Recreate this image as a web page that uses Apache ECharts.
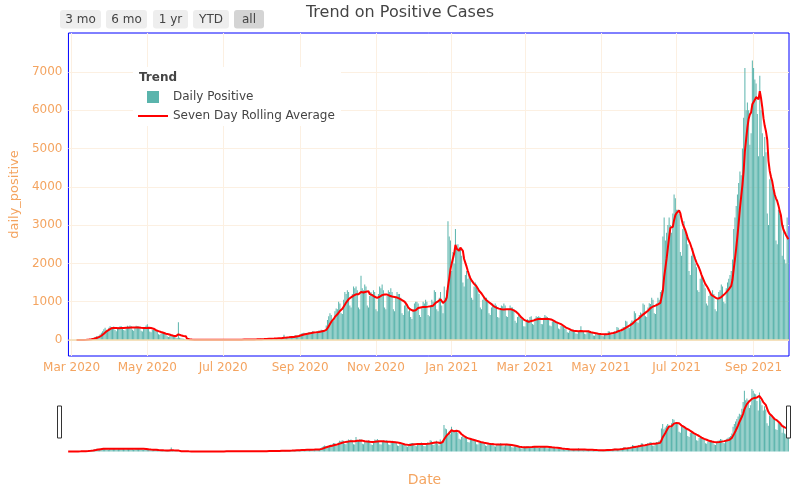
<!DOCTYPE html>
<html>
<head>
<meta charset="utf-8">
<script src="https://cdn.jsdelivr.net/npm/echarts@6/dist/echarts.min.js"></script>
<style>
html, body { margin: 0; padding: 0; background: #fff; }
#chart { width: 800px; height: 494px; }
</style>
</head>
<body>
<div id="chart"></div>
<script>
// first day of the series: 2020-02-28, one value per day up to 2021-09-29
const startDate = [2020, 1, 28];
const dailyPositive = [
  0, 0, 0, 0, 0, 1, 0,
  1, 2, 0, 3, 5, 8, 12,
  15, 20, 18, 25, 35, 48, 60,
  80, 95, 90, 110, 150, 190, 230,
  280, 320, 270, 250, 320, 360, 330,
  330, 350, 260, 230, 300, 340, 360,
  360, 340, 260, 250, 320, 370, 350,
  380, 360, 270, 240, 330, 370, 360,
  350, 330, 240, 220, 310, 340, 380,
  410, 330, 220, 200, 260, 270, 260,
  250, 230, 150, 140, 170, 200, 190,
  160, 140, 100, 80, 100, 130, 130,
  110, 90, 60, 50, 460, 60, 45,
  40, 30, 20, 15, 20, 15, 10,
  8, 6, 4, 3, 5, 6, 5,
  5, 4, 2, 2, 3, 4, 5,
  4, 3, 2, 2, 4, 5, 6,
  6, 5, 3, 4, 6, 8, 7,
  8, 6, 4, 5, 8, 10, 9,
  10, 8, 6, 7, 10, 12, 11,
  14, 12, 9, 10, 15, 18, 16,
  20, 18, 14, 15, 22, 25, 24,
  30, 28, 20, 22, 32, 36, 35,
  42, 38, 28, 30, 45, 52, 48,
  55, 50, 38, 40, 58, 135, 62,
  80, 75, 55, 60, 85, 95, 100,
  130, 120, 95, 100, 150, 170, 175,
  190, 180, 140, 150, 200, 210, 200,
  230, 220, 170, 175, 230, 245, 240,
  270, 260, 210, 230, 380, 520, 620,
  700, 650, 480, 500, 750, 820, 800,
  1000, 950, 700, 680, 1050, 1250, 1200,
  1300, 1250, 900, 850, 1200, 1400, 1350,
  1400, 1300, 850, 800, 1680, 1350, 1300,
  1450, 1400, 900, 850, 1150, 1250, 1200,
  1300, 1250, 800, 750, 1200, 1400, 1350,
  1450, 1300, 850, 800, 1150, 1300, 1250,
  1350, 1250, 800, 750, 1100, 1250, 1200,
  1200, 1100, 700, 650, 900, 1000, 850,
  750, 800, 600, 550, 800, 950, 1000,
  1000, 950, 650, 600, 850, 1000, 950,
  1050, 1000, 650, 620, 900, 1050, 1000,
  1300, 1250, 800, 750, 1100, 1250, 900,
  700, 1400, 1100, 1300, 3100, 2700, 2600,
  1800, 2300, 2000, 2900, 2400, 2500, 2400,
  2400, 2200, 1500, 1400, 1700, 1800, 1600,
  1700, 1600, 1100, 1050, 1400, 1500, 1450,
  1300, 1200, 850, 800, 1050, 1150, 1100,
  1100, 1000, 700, 650, 850, 950, 900,
  950, 900, 600, 580, 780, 900, 880,
  950, 900, 620, 600, 780, 900, 850,
  850, 800, 500, 450, 600, 650, 600,
  550, 520, 360, 350, 480, 540, 520,
  600, 620, 420, 400, 560, 620, 600,
  620, 600, 420, 410, 580, 650, 620,
  600, 560, 380, 360, 480, 520, 500,
  480, 440, 300, 280, 370, 380, 350,
  300, 280, 200, 190, 250, 260, 250,
  270, 250, 170, 160, 220, 230, 360,
  250, 230, 160, 150, 210, 240, 230,
  200, 190, 120, 110, 160, 180, 170,
  180, 160, 110, 100, 150, 170, 160,
  230, 220, 150, 140, 200, 230, 220,
  340, 320, 220, 210, 300, 340, 330,
  500, 480, 330, 320, 450, 510, 500,
  750, 700, 480, 450, 650, 720, 690,
  950, 920, 620, 600, 850, 960, 940,
  1100, 1050, 700, 680, 950, 1100, 1050,
  1250, 1300, 2700, 3200, 2600, 2800, 3000,
  3200, 3000, 2800, 3300, 3800, 3700, 3400,
  3400, 3300, 2300, 2200, 2900, 3100, 2900,
  2700, 2500, 1800, 1700, 2200, 2400, 2200,
  2000, 1900, 1300, 1250, 1600, 1700, 1650,
  1450, 1350, 950, 900, 1150, 1250, 1200,
  1300, 1200, 800, 750, 1100, 1250, 1300,
  1450, 1400, 1000, 950, 1350, 1500, 1600,
  1700, 1800, 2100, 2900, 3200, 3500, 3800,
  4100, 4400, 4300, 5000, 5800, 7100, 6000,
  6200, 6000, 5100, 5400, 7300, 7100, 6800,
  6700, 5900, 4800, 6900, 6000, 5400, 4800,
  5300, 4900, 3300, 3000, 4200, 4300, 4000,
  4000, 3800, 2600, 2500, 3400, 3300, 3200,
  2200, 3000, 2100, 2000, 3200, 2700
];
const tickDates = ['2020-03-01', '2020-05-01', '2020-07-01', '2020-09-01', '2020-11-01',
  '2021-01-01', '2021-03-01', '2021-05-01', '2021-07-01', '2021-09-01'];
const tickLabels = ['Mar 2020', 'May 2020', 'Jul 2020', 'Sep 2020', 'Nov 2020',
  'Jan 2021', 'Mar 2021', 'May 2021', 'Jul 2021', 'Sep 2021'];
const yTicks = [0, 1000, 2000, 3000, 4000, 5000, 6000, 7000];
const rangeButtons = ['3 mo', '6 mo', '1 yr', 'YTD', 'all'];

const font = 'DejaVu Sans';
const orange = '#f4a460';

function toTime(s) {
  const p = s.split('-');
  return new Date(+p[0], +p[1] - 1, +p[2]).getTime();
}
const tickTimes = tickDates.map(toTime);
const days = dailyPositive.map((v, i) => new Date(startDate[0], startDate[1], startDate[2] + i).getTime());
const barData = dailyPositive.map((v, i) => [days[i], v]);
// seven day rolling mean of the daily values
const rollData = [];
for (let i = 6; i < dailyPositive.length; i++) {
  let s = 0;
  for (let j = i - 6; j <= i; j++) s += dailyPositive[j];
  rollData.push([days[i], +(s / 7).toFixed(1)]);
}
const xMin = days[0] - 43200000;
const xMax = days[days.length - 1] + 43200000;
const yMin = -418, yMax = 8016;

const chart = echarts.init(document.getElementById('chart'));

// range selector buttons (decorative, like the original)
const btnX = [60, 106, 153, 193, 234];
const btnW = [41, 41, 35, 36, 30];
const buttons = [];
rangeButtons.forEach((b, i) => {
  buttons.push({
    type: 'rect', z: 5,
    shape: { x: btnX[i], y: 10, width: btnW[i], height: 18.5, r: 3 },
    style: { fill: i === rangeButtons.length - 1 ? '#d4d4d4' : '#eeeeee' }
  });
  buttons.push({
    type: 'text', z: 6,
    x: btnX[i] + btnW[i] / 2, y: 19.5,
    style: { text: b, fill: '#444', font: '12px "' + font + '"', textAlign: 'center', textVerticalAlign: 'middle' }
  });
});

const option = {
  animation: false,
  backgroundColor: '#fff',
  textStyle: { fontFamily: font },
  title: {
    text: 'Trend on Positive Cases',
    left: 'center', top: 0,
    textStyle: { fontSize: 16, fontWeight: 'normal', color: '#444', fontFamily: font }
  },
  legend: {
    orient: 'vertical',
    left: 138, top: 91,
    padding: 0,
    itemWidth: 30, itemHeight: 12, itemGap: 7,
    textStyle: { fontSize: 12, color: '#444', fontFamily: font },
    data: [
      { name: 'Daily Positive', icon: 'path://M0,0H12V12H0Z' },
      { name: 'Seven Day Rolling Average', icon: 'path://M0,0H30V2H0Z' }
    ]
  },
  grid: [
    { left: 60, right: 11, top: 33, height: 323, show: true, borderColor: '#0000ff', borderWidth: 1 },
    { left: 60, right: 11, top: 383, height: 72 }
  ],
  xAxis: [
    {
      type: 'value', gridIndex: 0, min: xMin, max: xMax,
      axisLine: { show: false },
      axisTick: { show: false, customValues: tickTimes },
      axisLabel: {
        customValues: tickTimes,
        color: orange, fontSize: 12, margin: 6, fontFamily: font,
        formatter: v => {
          const k = tickTimes.indexOf(v);
          return k >= 0 ? tickLabels[k] : '';
        }
      },
      splitLine: { show: true, lineStyle: { color: '#fcf0e2', width: 1 } }
    },
    {
      type: 'value', gridIndex: 1, min: xMin, max: xMax,
      axisLine: { show: false }, axisTick: { show: false },
      axisLabel: { show: false }, splitLine: { show: false },
      name: 'Date', nameLocation: 'middle', nameGap: 18,
      nameTextStyle: { color: orange, fontSize: 14, fontFamily: font }
    }
  ],
  yAxis: [
    {
      type: 'value', gridIndex: 0, min: yMin, max: yMax,
      axisLine: { show: false },
      axisTick: { show: false, customValues: yTicks },
      axisLabel: {
        customValues: yTicks, color: orange, fontSize: 12, margin: 6, fontFamily: font,
        formatter: v => String(v)
      },
      splitLine: { show: true, lineStyle: { color: '#fcf0e2', width: 1 } },
      name: 'daily_positive', nameLocation: 'middle', nameGap: 40,
      nameTextStyle: { color: orange, fontSize: 13, fontFamily: font }
    },
    {
      type: 'value', gridIndex: 1, min: yMin, max: yMax, show: false
    }
  ],
  series: [
    {
      name: 'Daily Positive', type: 'bar', xAxisIndex: 0, yAxisIndex: 0,
      data: barData, barWidth: 1,
      itemStyle: { color: '#5ab4ac' },
      markLine: {
        silent: true, symbol: 'none', label: { show: false },
        lineStyle: { color: '#f3dcb0', width: 1.5, type: 'solid' },
        data: [{ yAxis: 0 }]
      }
    },
    {
      name: 'Seven Day Rolling Average', type: 'line', xAxisIndex: 0, yAxisIndex: 0,
      data: rollData, symbol: 'none', showSymbol: false,
      color: '#ff0000', lineStyle: { color: '#ff0000', width: 2 }, z: 3
    },
    {
      name: 'Daily Positive', type: 'bar', xAxisIndex: 1, yAxisIndex: 1,
      data: barData, barWidth: 1, itemStyle: { color: '#5ab4ac' }
    },
    {
      name: 'Seven Day Rolling Average', type: 'line', xAxisIndex: 1, yAxisIndex: 1,
      data: rollData, symbol: 'none', showSymbol: false,
      color: '#ff0000', lineStyle: { color: '#ff0000', width: 2 }, z: 3
    }
  ],
  graphic: buttons.concat([
    { type: 'rect', z: 3, shape: { x: 133, y: 67, width: 208, height: 59 }, style: { fill: '#fff' } },
    {
      type: 'text', z: 5, x: 139, y: 78,
      style: { text: 'Trend', fill: '#444', font: 'bold 12px "' + font + '"', textVerticalAlign: 'middle' }
    },
    { type: 'rect', z: 5, shape: { x: 57.5, y: 406, width: 4, height: 32 }, style: { fill: '#fff', stroke: '#333', lineWidth: 1 } },
    { type: 'rect', z: 5, shape: { x: 786.5, y: 406, width: 4, height: 32 }, style: { fill: '#fff', stroke: '#333', lineWidth: 1 } }
  ])
};
chart.setOption(option);
</script>
</body>
</html>
